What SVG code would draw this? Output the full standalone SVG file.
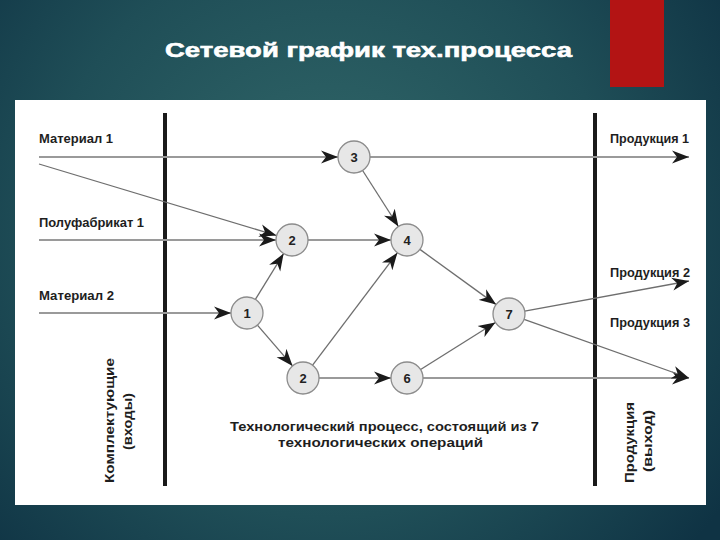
<svg xmlns="http://www.w3.org/2000/svg" width="720" height="540" viewBox="0 0 720 540">
<defs>
<radialGradient id="bg" cx="330" cy="230" r="480" gradientUnits="userSpaceOnUse">
<stop offset="0" stop-color="#336a6b"/>
<stop offset="0.6" stop-color="#1f4e57"/>
<stop offset="1" stop-color="#0f3344"/>
</radialGradient>
<marker id="ah" viewBox="-17 -7 18 14" refX="0" refY="0" markerWidth="18" markerHeight="14" markerUnits="userSpaceOnUse" orient="auto">
<path d="M0,0 L-17,-6.5 L-12,0 L-17,6.5 Z" fill="#1a1a1a"/>
</marker>
</defs>
<style>
.lbl{font-family:"Liberation Sans",Arial,sans-serif;font-weight:bold;font-size:13px;fill:#1e1e1e}
.big{font-family:"Liberation Sans",Arial,sans-serif;font-weight:bold;font-size:13px;fill:#1e1e1e}
.num{font-family:"Liberation Sans",Arial,sans-serif;font-weight:bold;font-size:13px;fill:#222;text-anchor:middle}
.node circle{fill:#e7e7e7;stroke:#8c8c8c;stroke-width:1.3}
.h{stroke:#9a9a9a;stroke-width:2;fill:none}
.d{stroke:#6e6e6e;stroke-width:1.3;fill:none}
.bar{stroke:#1a1a1a;stroke-width:4}
</style>
<rect x="0" y="0" width="720" height="540" fill="url(#bg)"/>
<rect x="610" y="0" width="54" height="87" fill="#b31414"/>
<text x="165" y="57" font-family="Liberation Sans,Arial,sans-serif" font-weight="bold" font-size="21" fill="#ffffff" stroke="#ffffff" stroke-width="0.6" textLength="407" lengthAdjust="spacingAndGlyphs">Сетевой график тех.процесса</text>
<rect x="15" y="100" width="691" height="405" fill="#ffffff"/>
<line class="bar" x1="165" y1="113" x2="165" y2="486"/>
<line class="bar" x1="595" y1="113" x2="595" y2="486"/>
<g id="labels">
<text class="lbl" x="39" y="143" textLength="74" lengthAdjust="spacingAndGlyphs">Материал 1</text>
<text class="lbl" x="39" y="227" textLength="105" lengthAdjust="spacingAndGlyphs">Полуфабрикат 1</text>
<text class="lbl" x="39" y="300" textLength="75" lengthAdjust="spacingAndGlyphs">Материал 2</text>
<text class="lbl" x="610" y="143" textLength="79" lengthAdjust="spacingAndGlyphs">Продукция 1</text>
<text class="lbl" x="610" y="277" textLength="80" lengthAdjust="spacingAndGlyphs">Продукция 2</text>
<text class="lbl" x="610" y="327" textLength="80" lengthAdjust="spacingAndGlyphs">Продукция 3</text>
<text class="big" x="230" y="431" textLength="309" lengthAdjust="spacingAndGlyphs">Технологический процесс, состоящий из 7</text>
<text class="big" x="278" y="447" textLength="205" lengthAdjust="spacingAndGlyphs">технологических операций</text>
<text class="lbl" transform="translate(114,420.5) rotate(-90)" text-anchor="middle" textLength="125" lengthAdjust="spacingAndGlyphs">Комплектующие</text>
<text class="lbl" transform="translate(131.5,421.5) rotate(-90)" text-anchor="middle" textLength="57" lengthAdjust="spacingAndGlyphs">(входы)</text>
<text class="lbl" transform="translate(634,442.5) rotate(-90)" text-anchor="middle" textLength="81" lengthAdjust="spacingAndGlyphs">Продукция</text>
<text class="lbl" transform="translate(652,441) rotate(-90)" text-anchor="middle" textLength="62" lengthAdjust="spacingAndGlyphs">(выход)</text>
</g>
<g id="connectors">
<line class="h" x1="39" y1="157" x2="338" y2="157" marker-end="url(#ah)"/>
<line class="h" x1="370" y1="157" x2="689" y2="157" marker-end="url(#ah)"/>
<line class="d" x1="39" y1="164" x2="276.5" y2="235.5" marker-end="url(#ah)"/>
<line class="h" x1="39" y1="240" x2="276" y2="240" marker-end="url(#ah)"/>
<line class="h" x1="39" y1="313" x2="231" y2="313" marker-end="url(#ah)"/>
<line class="d" x1="255.4" y1="299.4" x2="283.6" y2="253.6" marker-end="url(#ah)"/>
<line class="d" x1="257.4" y1="325.1" x2="292.6" y2="365.9" marker-end="url(#ah)"/>
<line class="h" x1="308" y1="240" x2="391" y2="240" marker-end="url(#ah)"/>
<line class="d" x1="362.6" y1="170.5" x2="398.4" y2="226.5" marker-end="url(#ah)"/>
<line class="d" x1="312.6" y1="365.2" x2="397.4" y2="252.8" marker-end="url(#ah)"/>
<line class="h" x1="319" y1="378" x2="391" y2="378" marker-end="url(#ah)"/>
<line class="h" x1="423" y1="378" x2="689" y2="378" marker-end="url(#ah)"/>
<line class="d" x1="419.9" y1="249.4" x2="496.1" y2="304.6" marker-end="url(#ah)"/>
<line class="d" x1="420.6" y1="369.5" x2="495.4" y2="322.5" marker-end="url(#ah)"/>
<line class="d" x1="524.7" y1="311.1" x2="689" y2="281" marker-end="url(#ah)"/>
<line class="d" x1="524.1" y1="319.3" x2="689" y2="378" marker-end="url(#ah)"/>
</g>
<g id="node3" class="node"><circle cx="354" cy="157" r="16"/><text class="num" x="354" y="162">3</text></g>
<g id="node2a" class="node"><circle cx="292" cy="240" r="16"/><text class="num" x="292" y="245">2</text></g>
<g id="node4" class="node"><circle cx="407" cy="240" r="16"/><text class="num" x="407" y="245">4</text></g>
<g id="node1" class="node"><circle cx="247" cy="313" r="16"/><text class="num" x="247" y="318">1</text></g>
<g id="node2b" class="node"><circle cx="303" cy="378" r="16"/><text class="num" x="303" y="383">2</text></g>
<g id="node6" class="node"><circle cx="407" cy="378" r="16"/><text class="num" x="407" y="383">6</text></g>
<g id="node7" class="node"><circle cx="509" cy="314" r="16"/><text class="num" x="509" y="319">7</text></g>
</svg>
